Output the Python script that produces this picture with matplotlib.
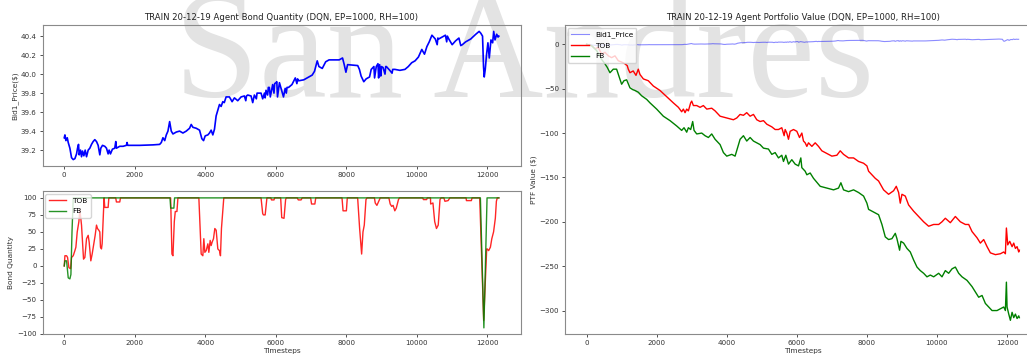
import matplotlib
matplotlib.use("Agg")
import matplotlib.pyplot as plt
import numpy as np

TICKS_X = [0, 2000, 4000, 6000, 8000, 10000, 12000]

# bid price path: (timestep, price)
price = [(0, 39.33), (19, 39.36), (47, 39.30), (85, 39.33), (113, 39.28), (160, 39.22), (207, 39.12),
         (255, 39.10), (302, 39.11), (349, 39.16), (377, 39.22), (405, 39.26), (424, 39.15),
         (462, 39.20), (490, 39.13), (519, 39.19), (556, 39.14), (594, 39.20), (632, 39.13),
         (679, 39.20), (726, 39.22), (773, 39.26), (820, 39.29), (867, 39.31), (915, 39.29),
         (962, 39.25), (1009, 39.15), (1037, 39.22), (1085, 39.25), (1150, 39.24), (1198, 39.22),
         (1245, 39.16), (1273, 39.20), (1311, 39.16), (1367, 39.21), (1433, 39.22), (1462, 39.29),
         (1480, 39.22), (1575, 39.24), (1669, 39.24), (1763, 39.25), (1782, 39.28), (1801, 39.25),
         (2140, 39.25), (2518, 39.255), (2706, 39.26), (2754, 39.28), (2800, 39.33), (2850, 39.30),
         (2895, 39.36), (2942, 39.40), (2990, 39.50), (3036, 39.40), (3084, 39.37), (3178, 39.39),
         (3272, 39.40), (3367, 39.38), (3461, 39.40), (3555, 39.43), (3602, 39.47), (3650, 39.44),
         (3744, 39.43), (3838, 39.41), (3904, 39.32), (3952, 39.30), (3999, 39.35), (4074, 39.36),
         (4121, 39.38), (4168, 39.41), (4215, 39.36), (4262, 39.42), (4309, 39.56), (4357, 39.62),
         (4404, 39.68), (4451, 39.66), (4498, 39.71), (4540, 39.70), (4592, 39.76), (4686, 39.76),
         (4762, 39.71), (4828, 39.75), (4922, 39.72), (5017, 39.76), (5111, 39.77), (5150, 39.72),
         (5170, 39.77), (5205, 39.78), (5300, 39.77), (5347, 39.70), (5394, 39.78), (5450, 39.74),
         (5470, 39.80), (5583, 39.80), (5630, 39.74), (5680, 39.80), (5700, 39.75), (5724, 39.83),
         (5770, 39.78), (5790, 39.86), (5818, 39.86), (5846, 39.76), (5913, 39.89), (5950, 39.80),
         (5970, 39.90), (6007, 39.91), (6030, 39.92), (6050, 39.76), (6105, 39.91), (6220, 39.76),
         (6268, 39.85), (6300, 39.80), (6320, 39.86), (6364, 39.86), (6460, 39.89), (6555, 39.96),
         (6600, 39.90), (6620, 39.95), (6650, 39.93), (6795, 39.94), (6938, 39.97), (7034, 39.99),
         (7100, 40.03), (7177, 40.14), (7225, 40.08), (7320, 40.06), (7417, 40.13), (7512, 40.15),
         (7656, 40.15), (7800, 40.15), (7895, 40.17), (7943, 40.10), (7991, 40.02), (8039, 40.10),
         (8326, 40.09), (8374, 40.05), (8422, 39.98), (8498, 39.92), (8565, 39.95), (8661, 39.97),
         (8709, 40.05), (8785, 40.08), (8804, 39.96), (8852, 40.08), (8900, 40.11), (8919, 39.96),
         (8948, 40.10), (8980, 39.98), (9000, 40.08), (9044, 40.07), (9100, 40.00), (9120, 40.08),
         (9139, 40.08), (9235, 40.04), (9300, 40.01), (9320, 40.05), (9379, 40.05), (9522, 40.04),
         (9666, 40.05), (9761, 40.08), (9857, 40.12), (9953, 40.14), (10048, 40.18), (10144, 40.26),
         (10220, 40.21), (10288, 40.29), (10355, 40.34), (10431, 40.41), (10527, 40.37),
         (10580, 40.31), (10600, 40.38), (10623, 40.37), (10718, 40.39), (10814, 40.41),
         (10850, 40.34), (10870, 40.40), (10910, 40.37), (11005, 40.31), (11101, 40.35),
         (11197, 40.38), (11250, 40.30), (11293, 40.31), (11388, 40.34), (11532, 40.37),
         (11675, 40.42), (11771, 40.45), (11819, 40.43), (11867, 40.40), (11895, 40.08),
         (11915, 39.97), (11944, 40.05), (11982, 40.21), (12020, 40.33), (12058, 40.17),
         (12106, 40.36), (12154, 40.33), (12183, 40.45), (12221, 40.36), (12269, 40.42),
         (12307, 40.39), (12330, 40.40)]

# bond holdings: (timestep, quantity)
tob_qty = [(0, 0), (19, 15), (66, 15), (94, 12.5), (132, -2.5), (179, -4), (207, 12.5), (255, 15),
           (302, 22.5), (330, 27.5), (368, 50), (415, 65), (443, 82.5), (490, 60), (519, 35),
           (547, 10), (585, 12.5), (632, 40), (679, 45), (707, 35), (754, 7.5), (792, 17.5),
           (839, 32.5), (877, 45), (915, 60), (943, 55), (981, 52.5), (1009, 50), (1028, 27.5),
           (1056, 25), (1075, 32.5), (1130, 100), (1150, 86), (1245, 86), (1265, 100), (1460, 100),
           (1480, 94), (1575, 94), (1595, 100), (3018, 100), (3055, 17.5), (3084, 15), (3122, 65),
           (3150, 80), (3197, 80), (3225, 100), (3819, 100), (3885, 17.5), (3932, 15), (3960, 40),
           (3989, 20), (4027, 22.5), (4074, 32.5), (4102, 20), (4140, 37.5), (4168, 30), (4196, 35),
           (4234, 40), (4272, 55), (4310, 52.5), (4357, 25), (4404, 22.5), (4432, 15), (4460, 55),
           (4526, 100), (5583, 100), (5630, 77), (5650, 75), (5700, 75), (5750, 100), (5860, 100),
           (5880, 97), (5950, 97), (5970, 100), (6140, 100), (6170, 71), (6235, 70), (6280, 97.5),
           (6300, 100), (6610, 100), (6640, 97), (6720, 97), (6750, 100), (6990, 100), (7016, 91),
           (7110, 91), (7135, 100), (7880, 100), (7910, 81), (8004, 81), (8030, 100), (8324, 100),
           (8380, 55), (8437, 17.5), (8475, 50), (8512, 60), (8560, 97.5), (8590, 100), (8800, 100),
           (8823, 92.5), (8870, 89), (8920, 95), (8965, 100), (9210, 100), (9247, 91), (9290, 87.5),
           (9330, 89), (9378, 81), (9420, 85), (9482, 97.5), (9510, 100), (10170, 100),
           (10190, 97.5), (10280, 97.5), (10300, 100), (10390, 100), (10395, 91), (10460, 92.5),
           (10510, 65), (10560, 55), (10610, 60), (10660, 97.5), (10690, 100), (10770, 100),
           (10800, 95), (10890, 96), (10940, 100), (11400, 100), (11410, 96), (11550, 96),
           (11570, 100), (11787, 100), (11900, -80), (11985, 25), (12000, 25), (12040, 22.5),
           (12090, 27.5), (12130, 40), (12180, 50), (12230, 70), (12260, 95), (12285, 100),
           (12330, 100)]
fb_qty = [(0, 0), (19, 7.5), (66, 7.5), (113, -17.5), (160, -19), (189, -12.5), (220, 50), (255, 100),
          (3000, 100), (3020, 85), (3110, 85), (3130, 100), (11806, 100), (11905, -91), (11995, 100),
          (12330, 100)]

# portfolio value: (timestep, $)
tob_ptf = [(0, 0), (143, -1.5), (240, -5), (333, -3.4), (430, -11), (524, -9), (620, -13), (714, -15),
           (810, -13), (905, -18.5), (1000, -20), (1095, -22), (1160, -24), (1190, -28), (1238, -32),
           (1330, -30), (1410, -35), (1475, -28), (1524, -34), (1620, -39), (1760, -41), (1905, -47),
           (2095, -52), (2285, -59), (2476, -66), (2620, -71), (2714, -76), (2762, -73), (2810, -77),
           (2857, -73), (2905, -75), (2970, -66), (3000, -64), (3048, -69), (3143, -69), (3238, -71),
           (3333, -69), (3430, -73), (3571, -72), (3667, -75), (3810, -81), (4000, -83), (4190, -85),
           (4286, -83), (4380, -79), (4476, -80), (4570, -77), (4667, -81), (4762, -79), (4857, -85),
           (4952, -87), (5048, -86), (5143, -90), (5286, -93), (5381, -96), (5476, -96), (5571, -94),
           (5638, -103), (5667, -96), (5714, -100), (5762, -107), (5810, -98), (5905, -96),
           (6000, -98), (6076, -105), (6143, -100), (6190, -109), (6238, -111), (6286, -115),
           (6333, -111), (6429, -115), (6524, -111), (6619, -115), (6714, -120), (6857, -123),
           (7000, -126), (7143, -125), (7238, -120), (7333, -124), (7476, -128), (7619, -128),
           (7762, -132), (7905, -134), (8000, -137), (8048, -143), (8143, -147), (8238, -151),
           (8333, -154), (8476, -164), (8619, -169), (8762, -165), (8838, -160), (8905, -167),
           (8952, -179), (9000, -169), (9095, -171), (9190, -181), (9333, -188), (9476, -194),
           (9619, -200), (9762, -205), (9905, -203), (10048, -203), (10143, -200), (10238, -196),
           (10381, -201), (10524, -194), (10667, -200), (10810, -203), (10905, -203), (11000, -211),
           (11143, -218), (11238, -224), (11333, -220), (11429, -228), (11524, -235), (11667, -237),
           (11810, -236), (11905, -234), (11952, -236), (11981, -207), (12019, -226), (12076, -222),
           (12143, -228), (12190, -224), (12238, -230), (12286, -228), (12333, -234), (12350, -232)]
fb_ptf = [(0, 0), (143, -1.5), (286, -7), (430, -17), (524, -22), (590, -26), (667, -32), (762, -28),
          (857, -28), (933, -37), (1000, -45), (1067, -41), (1143, -40), (1238, -49), (1314, -51),
          (1381, -52), (1476, -54), (1571, -58), (1714, -62), (1810, -66), (2000, -73), (2190, -81),
          (2381, -86), (2571, -92), (2714, -97), (2781, -94), (2857, -99), (2905, -94), (2971, -96),
          (3028, -87), (3067, -97), (3143, -101), (3286, -100), (3381, -103), (3476, -105),
          (3571, -101), (3667, -107), (3810, -113), (3905, -122), (4000, -126), (4143, -124),
          (4238, -126), (4305, -117), (4381, -107), (4476, -103), (4571, -109), (4667, -105),
          (4762, -109), (4857, -111), (4952, -113), (5048, -117), (5190, -118), (5286, -124),
          (5381, -122), (5476, -128), (5571, -125), (5619, -132), (5686, -125), (5762, -135),
          (5857, -130), (5952, -135), (6048, -137), (6114, -128), (6143, -139), (6238, -143),
          (6286, -147), (6381, -145), (6476, -151), (6667, -160), (6857, -162), (7048, -164),
          (7190, -162), (7257, -156), (7333, -164), (7476, -166), (7619, -164), (7762, -167),
          (7905, -171), (8000, -179), (8048, -186), (8143, -188), (8238, -190), (8333, -192),
          (8429, -203), (8524, -217), (8619, -220), (8714, -219), (8810, -213), (8857, -219),
          (8933, -232), (8971, -222), (9048, -224), (9143, -230), (9238, -234), (9333, -243),
          (9429, -251), (9524, -255), (9619, -258), (9714, -262), (9810, -260), (9905, -262),
          (10048, -258), (10143, -262), (10238, -255), (10333, -258), (10429, -253), (10524, -251),
          (10619, -258), (10714, -262), (10857, -266), (11000, -273), (11095, -279), (11190, -285),
          (11286, -283), (11381, -292), (11476, -296), (11571, -300), (11714, -300), (11810, -298),
          (11905, -296), (11952, -300), (11981, -268), (12000, -296), (12048, -304), (12095, -311),
          (12143, -302), (12190, -308), (12238, -304), (12286, -309), (12333, -306), (12350, -308)]

price_t, price_v = np.array(price).T
tob_t, tob_v = np.array(tob_qty).T
fb_t, fb_v = np.array(fb_qty).T
tob_pt, tob_pv = np.array(tob_ptf).T
fb_pt, fb_pv = np.array(fb_ptf).T
# price move expressed in portfolio units
bid_ptf = (price_v - price_v[0]) * 5.3

label_kw = dict(fontsize=5.3, color='#333333')
title_kw = dict(fontsize=6.1, color='#222222', pad=3.5)
legend_kw = dict(loc='upper left', fontsize=5.3, borderaxespad=0.4, handlelength=2.4,
                 labelspacing=0.6, borderpad=0.45, framealpha=0.8, edgecolor='#cccccc')

fig = plt.figure(figsize=(10.27, 3.58), dpi=100)

# watermark behind the (transparent) axes
fig.text(0.51, 0.729, 'San Andres', fontsize=110, family='Liberation Serif',
         color='#e3e3e3', ha='center', va='baseline', zorder=-5)

ax1 = fig.add_axes([0.0414, 0.5363, 0.4655, 0.3939])
ax2 = fig.add_axes([0.0414, 0.0660, 0.4655, 0.3994])
ax3 = fig.add_axes([0.5501, 0.0660, 0.4635, 0.8642])

for ax in (ax1, ax2, ax3):
    ax.set_facecolor('none')
    for s in ax.spines.values():
        s.set_color('#8a8a8a')
        s.set_linewidth(0.8)
    ax.tick_params(labelsize=5.1, colors='#333333', length=2.5, width=0.6, pad=1.8)
    ax.set_xticks(TICKS_X)

ax1.plot(price_t, price_v, color='blue', lw=1.2)
ax1.set_title('TRAIN 20-12-19 Agent Bond Quantity (DQN, EP=1000, RH=100)', **title_kw)
ax1.set_ylabel('Bid1_Price($)', labelpad=2, **label_kw)

ax2.plot(tob_t, tob_v, color='red', lw=1.0, alpha=0.85, label='TOB')
ax2.plot(fb_t, fb_v, color='green', lw=1.0, alpha=0.85, label='FB')
ax2.set_yticks([-100, -75, -50, -25, 0, 25, 50, 75, 100])
ax2.set_ylabel('Bond Quantity', labelpad=2, **label_kw)
ax2.set_xlabel('Timesteps', labelpad=1, **label_kw)
ax2.legend(**legend_kw)

ax3.plot(price_t, bid_ptf, color='blue', lw=0.8, alpha=0.45, label='Bid1_Price')
ax3.plot(tob_pt, tob_pv, color='red', lw=1.0, label='TOB')
ax3.plot(fb_pt, fb_pv, color='green', lw=1.0, label='FB')
ax3.set_title('TRAIN 20-12-19 Agent Portfolio Value (DQN, EP=1000, RH=100)', **title_kw)
ax3.set_ylabel('PTF Value ($)', labelpad=2, **label_kw)
ax3.set_xlabel('Timesteps', labelpad=1, **label_kw)
ax3.legend(**legend_kw)

fig.savefig('out.png', dpi=100)
